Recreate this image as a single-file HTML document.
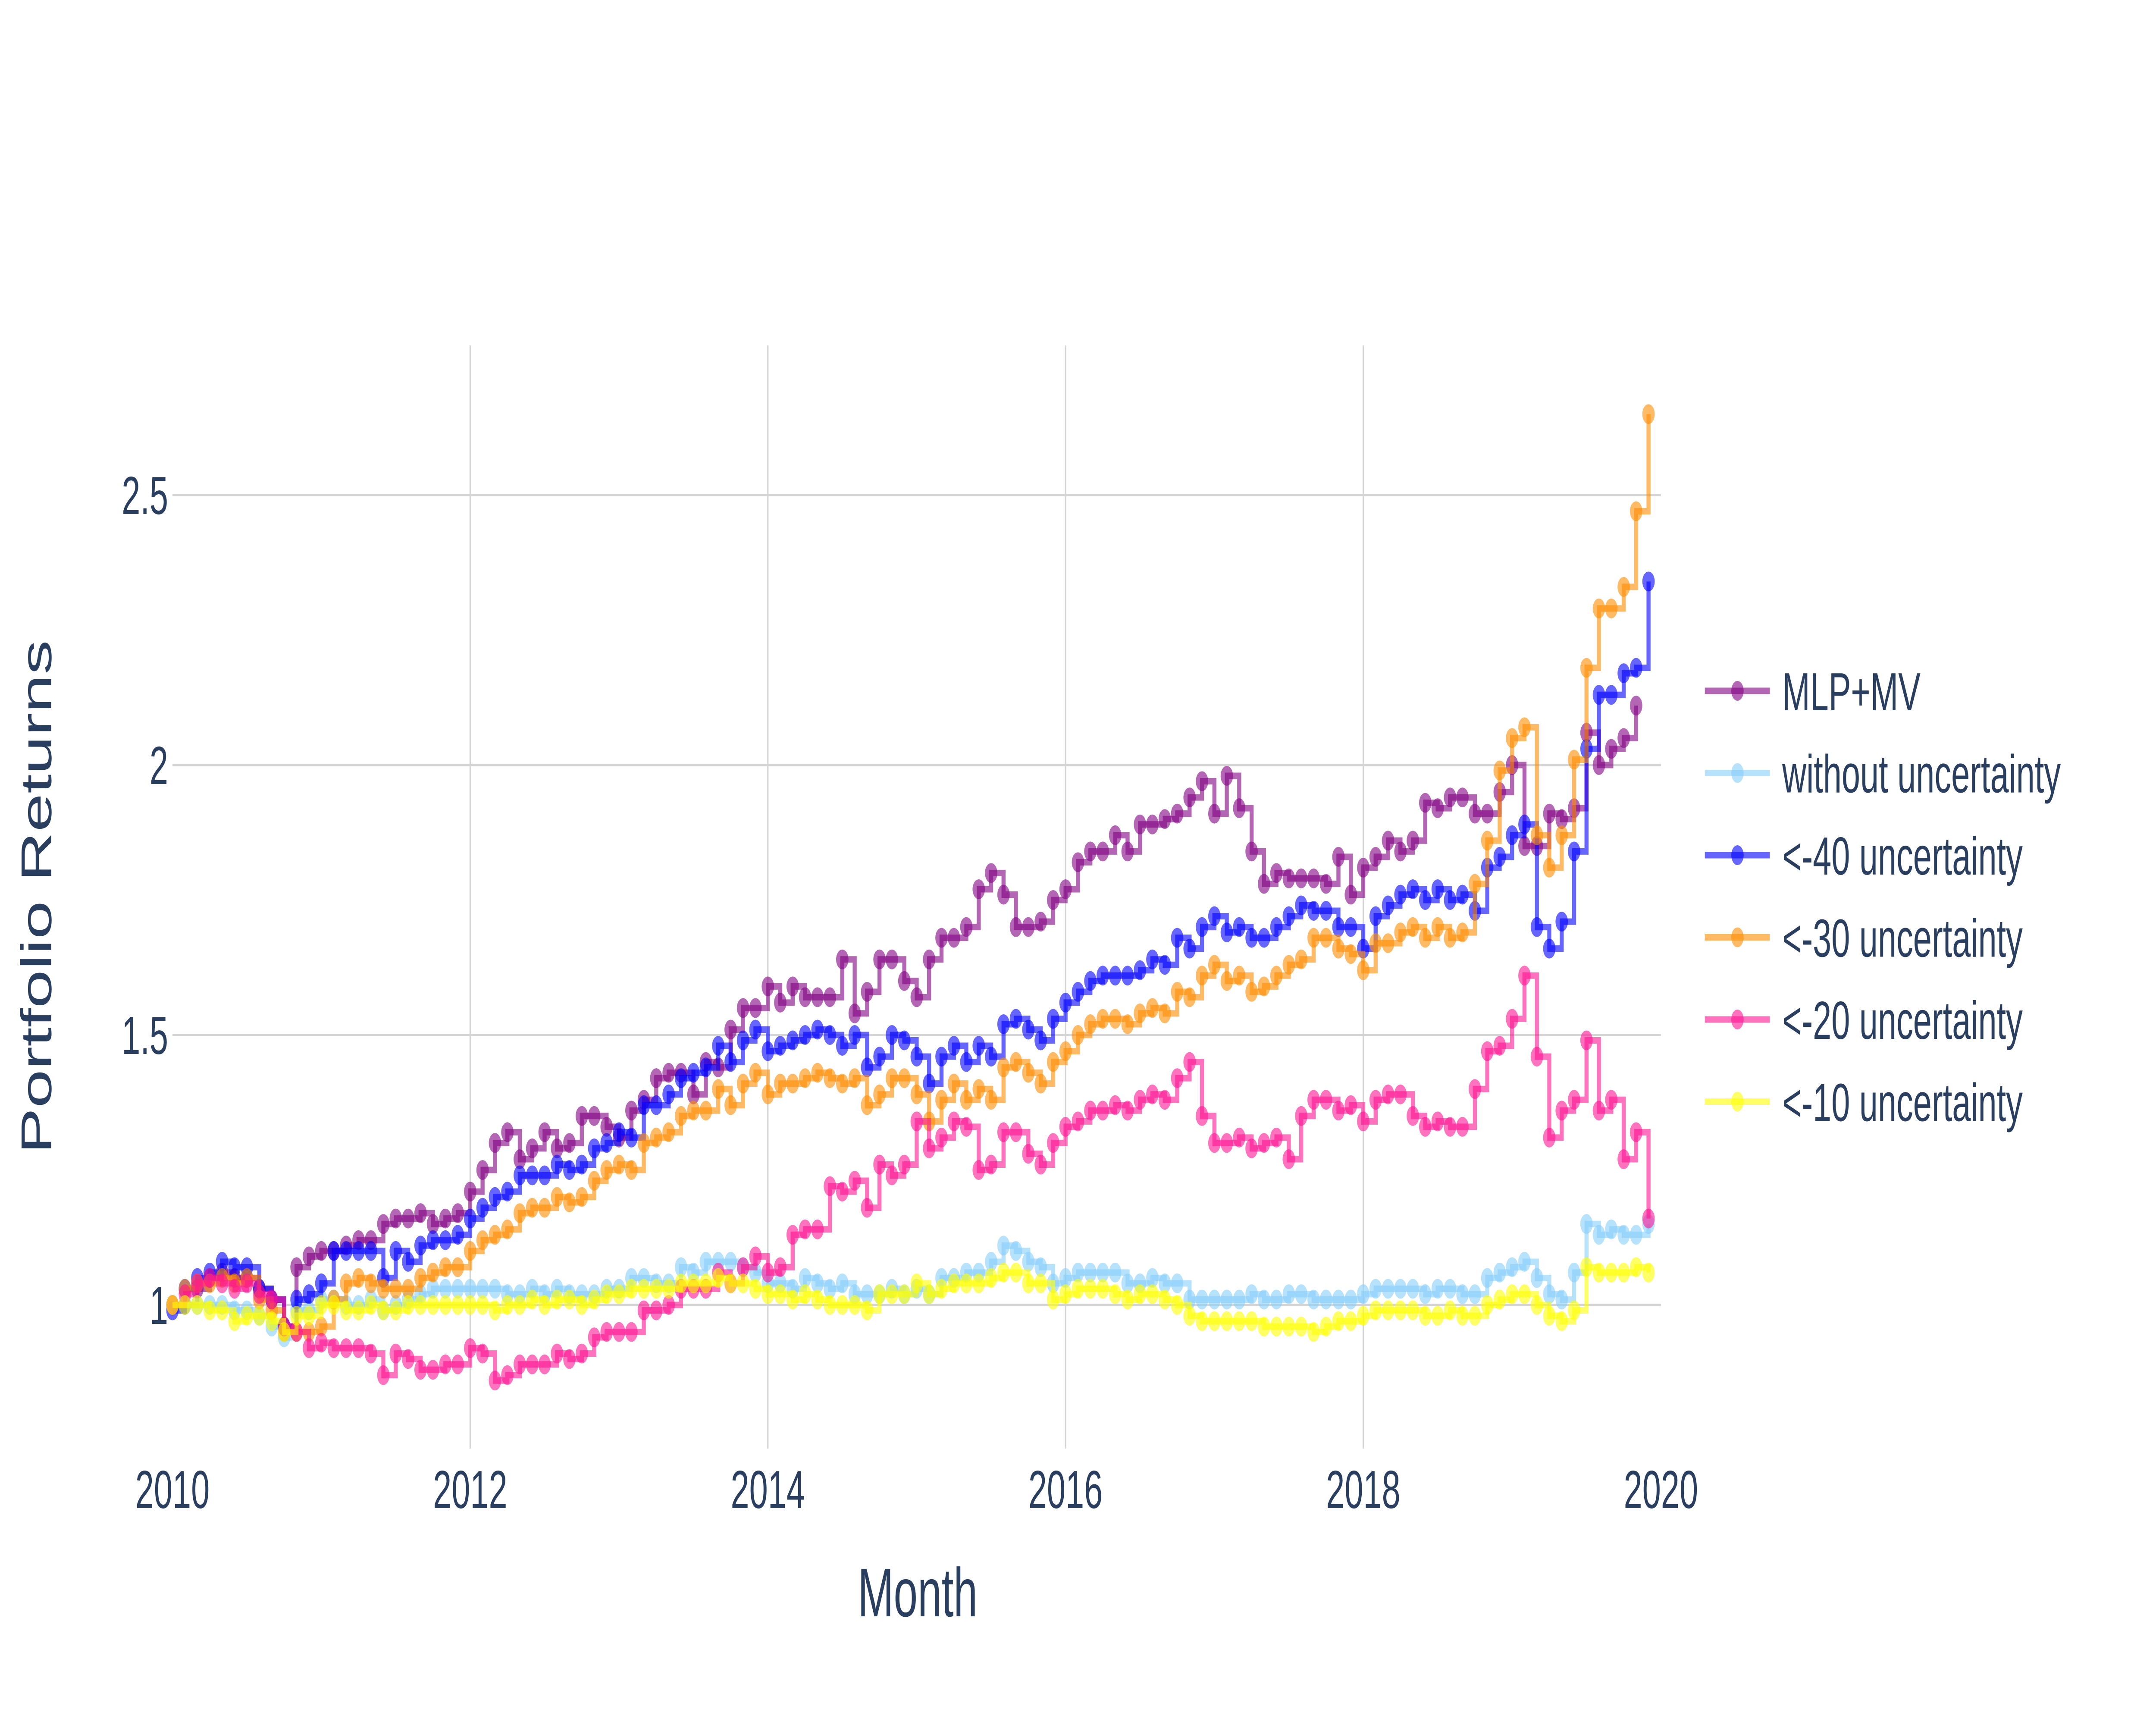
<!DOCTYPE html>
<html>
<head>
<meta charset="utf-8">
<style>
html,body{margin:0;padding:0;background:#fff;width:100%;height:100%;overflow:hidden;}
svg{display:block;position:absolute;left:0;top:0;width:100vw;height:100vh;}
text{font-family:"Liberation Sans","DejaVu Sans",sans-serif;fill:#2a3f5f;}
</style>
</head>
<body>
<svg id="chart" viewBox="0 0 8000 4000" preserveAspectRatio="none" xmlns="http://www.w3.org/2000/svg">
  <rect x="0" y="0" width="8000" height="4000" fill="#ffffff"/>
  <g id="grid"></g>
  <g id="yticks"></g>
  <g id="xticks"></g>
  <defs><clipPath id="plotclip"><rect x="560" y="801" width="5700" height="2558"/></clipPath></defs>
  <g id="series" clip-path="url(#plotclip)"></g>
  <text x="0" y="0" font-size="160" text-anchor="middle" transform="translate(190,2080) rotate(-90)">Portfolio Returns</text>
  <text x="3405" y="3748" font-size="160" text-anchor="middle">Month</text>
  <g id="legend"></g>
</svg>
<script>
// ---- data ----
const yTickValues = [1, 1.5, 2, 2.5];
const yTickLabels = ["1", "1.5", "2", "2.5"];
const xTickYears = [2010, 2012, 2014, 2016, 2018, 2020];
const xTickLabels = ["2010", "2012", "2014", "2016", "2018", "2020"];
const seriesNames = ["MLP+MV", "without uncertainty", "<-40 uncertainty", "<-30 uncertainty", "<-20 uncertainty", "<-10 uncertainty"];
const mlpMv = [1.00,1.00,1.03,1.05,1.06,1.05,1.05,1.03,1.01,0.96,1.07,1.09,
1.10,1.10,1.11,1.12,1.12,1.15,1.16,1.16,1.17,1.15,1.16,1.17,
1.21,1.25,1.30,1.32,1.27,1.29,1.32,1.29,1.30,1.35,1.35,1.33,
1.31,1.36,1.38,1.42,1.43,1.43,1.39,1.45,1.44,1.51,1.55,1.55,
1.59,1.56,1.59,1.57,1.57,1.57,1.64,1.54,1.58,1.64,1.64,1.60,
1.57,1.64,1.68,1.68,1.70,1.77,1.80,1.76,1.70,1.70,1.71,1.75,
1.77,1.82,1.84,1.84,1.87,1.84,1.89,1.89,1.90,1.91,1.94,1.97,
1.91,1.98,1.92,1.84,1.78,1.80,1.79,1.79,1.79,1.78,1.83,1.76,
1.81,1.83,1.86,1.84,1.86,1.93,1.92,1.94,1.94,1.91,1.91,1.95,
2.00,1.85,1.85,1.91,1.90,1.92,2.06,2.00,2.03,2.05,2.11];
const withoutUnc = [1.00,1.00,1.00,1.00,1.00,0.99,0.99,0.98,0.96,0.94,0.99,0.99,
1.01,1.01,1.00,1.00,1.01,0.99,1.00,1.01,1.02,1.03,1.03,1.03,
1.03,1.03,1.03,1.02,1.02,1.03,1.02,1.03,1.02,1.02,1.02,1.03,
1.03,1.05,1.05,1.04,1.04,1.07,1.06,1.08,1.08,1.08,1.07,1.06,
1.04,1.04,1.03,1.05,1.04,1.03,1.04,1.02,1.02,1.02,1.03,1.02,
1.03,1.02,1.05,1.05,1.06,1.06,1.08,1.11,1.10,1.08,1.07,1.04,
1.05,1.06,1.06,1.06,1.06,1.04,1.04,1.05,1.04,1.04,1.01,1.01,
1.01,1.01,1.01,1.02,1.01,1.01,1.02,1.02,1.01,1.01,1.01,1.01,
1.02,1.03,1.03,1.03,1.03,1.02,1.03,1.03,1.02,1.02,1.05,1.06,
1.07,1.08,1.05,1.02,1.01,1.06,1.15,1.13,1.14,1.13,1.13,1.15];
const unc40 = [0.99,1.03,1.05,1.06,1.08,1.07,1.07,1.03,1.01,0.96,1.01,1.02,
1.04,1.10,1.10,1.10,1.10,1.05,1.10,1.08,1.11,1.12,1.12,1.13,
1.16,1.18,1.20,1.21,1.24,1.24,1.24,1.26,1.25,1.26,1.29,1.30,
1.32,1.31,1.37,1.37,1.39,1.42,1.43,1.44,1.48,1.45,1.49,1.51,
1.47,1.48,1.49,1.50,1.51,1.50,1.48,1.50,1.44,1.46,1.50,1.49,
1.46,1.41,1.46,1.48,1.45,1.48,1.46,1.52,1.53,1.51,1.49,1.53,
1.56,1.58,1.60,1.61,1.61,1.61,1.62,1.64,1.63,1.68,1.66,1.70,
1.72,1.69,1.70,1.68,1.68,1.70,1.72,1.74,1.73,1.73,1.70,1.70,
1.66,1.72,1.74,1.76,1.77,1.75,1.77,1.75,1.76,1.73,1.81,1.83,
1.87,1.89,1.70,1.66,1.71,1.84,2.03,2.13,2.13,2.17,2.18,2.34];
const unc30 = [1.00,1.03,1.04,1.04,1.05,1.04,1.05,1.01,0.99,0.95,0.95,0.95,
0.96,1.01,1.04,1.05,1.04,1.03,1.03,1.03,1.05,1.06,1.07,1.07,
1.10,1.12,1.13,1.14,1.17,1.18,1.18,1.20,1.19,1.20,1.23,1.25,
1.26,1.25,1.30,1.31,1.32,1.35,1.36,1.36,1.40,1.37,1.41,1.43,
1.39,1.41,1.41,1.42,1.43,1.42,1.41,1.42,1.37,1.39,1.42,1.42,
1.39,1.34,1.38,1.41,1.38,1.40,1.38,1.44,1.45,1.43,1.41,1.45,
1.47,1.50,1.52,1.53,1.53,1.52,1.54,1.55,1.54,1.58,1.57,1.61,
1.63,1.60,1.61,1.58,1.59,1.61,1.63,1.64,1.68,1.68,1.66,1.65,
1.62,1.67,1.67,1.69,1.70,1.68,1.70,1.68,1.69,1.78,1.86,1.99,
2.05,2.07,1.87,1.81,1.87,2.01,2.18,2.29,2.29,2.33,2.47,2.65];
const unc20 = [1.00,1.02,1.04,1.05,1.04,1.03,1.04,1.02,1.01,0.96,0.95,0.92,
0.93,0.92,0.92,0.92,0.91,0.87,0.91,0.90,0.88,0.88,0.89,0.89,
0.92,0.91,0.86,0.87,0.89,0.89,0.89,0.91,0.90,0.91,0.94,0.95,
0.95,0.95,0.99,0.99,1.00,1.03,1.03,1.03,1.06,1.04,1.07,1.09,
1.06,1.07,1.13,1.14,1.14,1.22,1.21,1.23,1.18,1.26,1.24,1.26,
1.34,1.29,1.31,1.34,1.33,1.25,1.26,1.32,1.32,1.28,1.26,1.30,
1.33,1.34,1.36,1.36,1.37,1.36,1.38,1.39,1.38,1.42,1.45,1.35,
1.30,1.30,1.31,1.29,1.30,1.31,1.27,1.35,1.38,1.38,1.36,1.37,
1.34,1.38,1.39,1.39,1.35,1.33,1.34,1.33,1.33,1.40,1.47,1.48,
1.53,1.61,1.46,1.31,1.36,1.38,1.49,1.36,1.38,1.27,1.32,1.16];
const unc10 = [1.00,1.00,1.00,0.99,0.99,0.97,0.98,0.98,0.97,0.95,0.98,0.98,
1.00,1.00,0.99,0.99,1.00,0.99,0.99,1.00,1.00,1.00,1.00,1.00,
1.00,1.00,0.99,1.00,1.00,1.01,1.00,1.01,1.01,1.00,1.01,1.02,
1.02,1.03,1.03,1.03,1.03,1.04,1.04,1.04,1.05,1.04,1.04,1.03,
1.02,1.02,1.01,1.02,1.01,1.00,1.00,1.00,0.99,1.02,1.02,1.02,
1.04,1.02,1.03,1.04,1.04,1.04,1.05,1.06,1.06,1.04,1.04,1.01,
1.02,1.03,1.03,1.03,1.02,1.01,1.02,1.02,1.01,1.00,0.98,0.97,
0.97,0.97,0.97,0.97,0.96,0.96,0.96,0.96,0.95,0.96,0.97,0.97,
0.98,0.99,0.99,0.99,0.99,0.98,0.98,0.99,0.98,0.98,1.00,1.01,
1.02,1.02,1.00,0.98,0.97,0.99,1.07,1.06,1.06,1.06,1.07,1.06];

// ---- layout / scales ----
const X0 = 640, X1 = 6163, PLOT_TOP = 801, PLOT_BOTTOM = 3359;
function xOfMonth(m) { return X0 + (m / 120) * (X1 - X0); }
function xOfYear(y) { return X0 + ((y - 2010) / 10) * (X1 - X0); }
function yOf(v) { return 3026 - (v - 1) * 1252; }
const NS = "http://www.w3.org/2000/svg";
function mk(tag, attrs, parent) {
  const el = document.createElementNS(NS, tag);
  for (const k in attrs) el.setAttribute(k, attrs[k]);
  parent.appendChild(el);
  return el;
}

const grid = document.getElementById('grid');
const yt = document.getElementById('yticks');
const xt = document.getElementById('xticks');
yTickValues.forEach((v, i) => {
  const ln = mk('line', {x1: X0, x2: X1, y1: yOf(v), y2: yOf(v), stroke: '#d4d4d4', 'stroke-width': 5}, grid);
  
  
  const t = mk('text', {x: 624, y: yOf(v) + 44, 'font-size': 124, 'text-anchor': 'end'}, yt);
  t.textContent = yTickLabels[i];
  
  
});
xTickYears.forEach((yr, i) => {
  const x = xOfYear(yr);
  if (yr > 2010 && yr < 2020) {
    const ln = mk('line', {x1: x, x2: x, y1: PLOT_TOP, y2: PLOT_BOTTOM, stroke: '#d4d4d4', 'stroke-width': 5}, grid);
    
    
  }
  const t = mk('text', {x: x, y: 3497, 'font-size': 124, 'text-anchor': 'middle'}, xt);
  t.textContent = xTickLabels[i];
  
  
});

const allSeries = [mlpMv, withoutUnc, unc40, unc30, unc20, unc10];
const colors = ['rgb(128,0,128)', 'rgb(135,206,250)', 'rgb(0,0,255)', 'rgb(255,140,0)', 'rgb(255,20,147)', 'rgb(255,255,0)'];
const seriesKeys = ['mlp-mv', 'without-uncertainty', 'lt-40-uncertainty', 'lt-30-uncertainty', 'lt-20-uncertainty', 'lt-10-uncertainty'];
const layer = document.getElementById('series');
allSeries.forEach((vals, si) => {
  const g = mk('g', {}, layer);
  
  
  let d = 'M' + xOfMonth(0) + ' ' + yOf(vals[0]);
  for (let i = 1; i < vals.length; i++) {
    d += ' H' + xOfMonth(i) + ' V' + yOf(vals[i]);
  }
  const p = mk('path', {d: d, fill: 'none', stroke: colors[si], 'stroke-width': 15, 'stroke-opacity': 0.6, 'stroke-linejoin': 'miter'}, g);
  
  
  vals.forEach((v, i) => {
    const c = mk('circle', {cx: xOfMonth(i), cy: yOf(v), r: 23, fill: colors[si], 'fill-opacity': 0.6}, g);
    
    
  });
});

const legend = document.getElementById('legend');
seriesNames.forEach((name, i) => {
  const cy = 1602 + i * 190.5;
  const g = mk('g', {}, legend);
  
  
  mk('line', {x1: 6326, x2: 6567, y1: cy, y2: cy, stroke: colors[i], 'stroke-width': 15, 'stroke-opacity': 0.6}, g);
  mk('circle', {cx: 6447, cy: cy, r: 23, fill: colors[i], 'fill-opacity': 0.6}, g);
  const t = mk('text', {x: 6613, y: cy + 45, 'font-size': 124}, g);
  t.textContent = name;
  
  
});
</script>
</body>
</html>
